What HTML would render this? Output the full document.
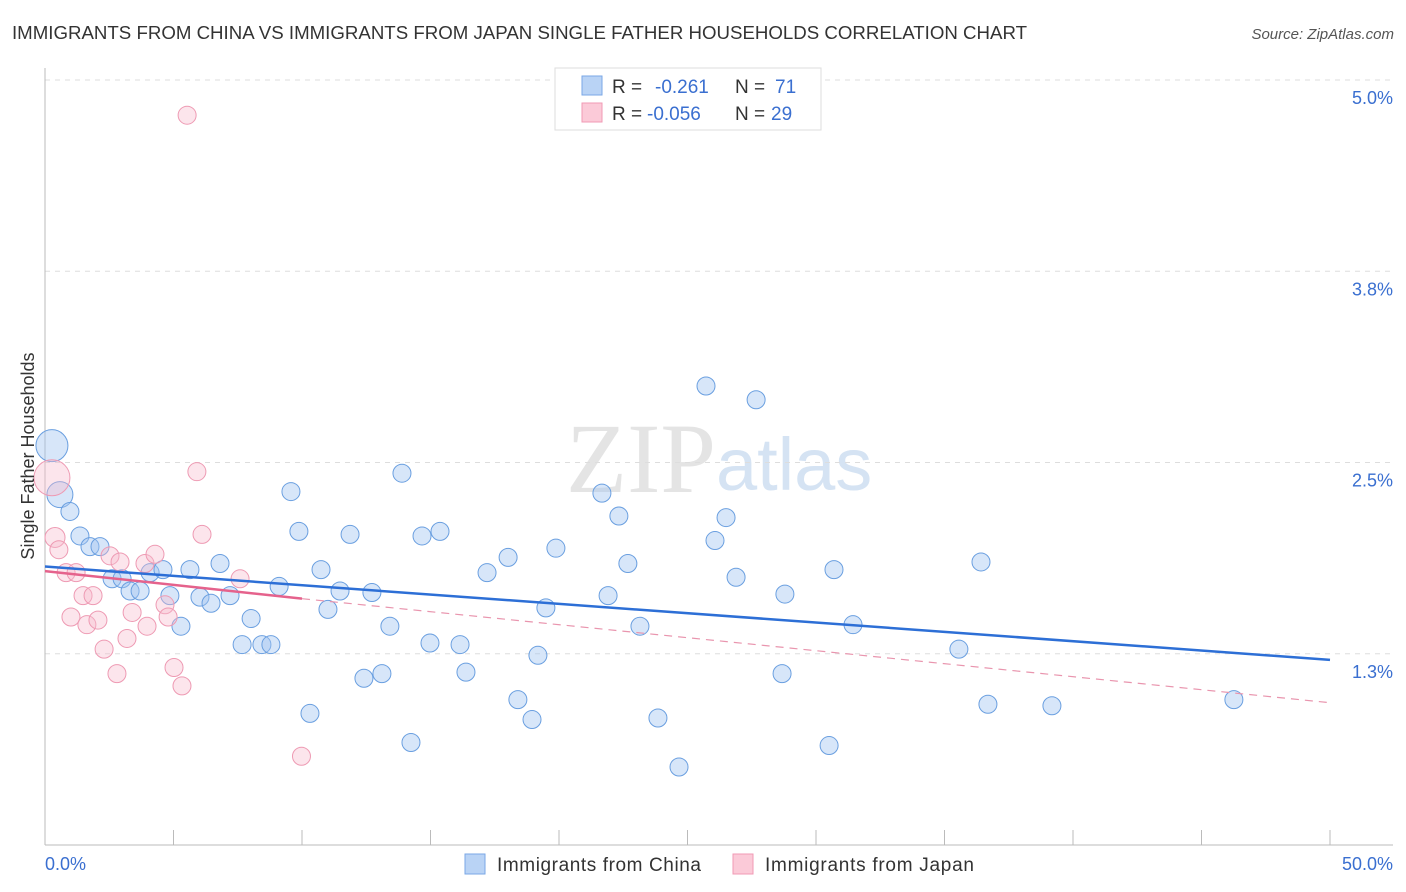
<!DOCTYPE html>
<html><head><meta charset="utf-8"><style>
body{margin:0;background:#fff;font-family:"Liberation Sans",sans-serif;}
svg{display:block}
</style></head><body>
<svg id="chart" width="1406" height="892" xmlns="http://www.w3.org/2000/svg">
<text x="12" y="39" font-size="18" fill="#333" textLength="1015" lengthAdjust="spacingAndGlyphs">IMMIGRANTS FROM CHINA VS IMMIGRANTS FROM JAPAN SINGLE FATHER HOUSEHOLDS CORRELATION CHART</text>
<text x="1394" y="39" font-size="15" fill="#555" font-style="italic" text-anchor="end">Source: ZipAtlas.com</text>
<text x="716" y="492" font-size="100" fill="#e4e4e4" text-anchor="end" font-family="Liberation Serif">ZIP</text>
<text x="716" y="490" font-size="74" fill="#d5e3f3">atlas</text>
<g id="grid"></g>
<g id="axes"></g>
<g id="pts"></g>
<g id="lines"></g>
<text transform="translate(34,456) rotate(-90)" font-size="18" fill="#333" text-anchor="middle">Single Father Households</text>
<text x="45" y="870" font-size="18" fill="#3a6fd0">0.0%</text>
<text x="1393" y="870" font-size="18" fill="#3a6fd0" text-anchor="end">50.0%</text>
<g>
<rect x="555" y="68" width="266" height="62" fill="#fff" stroke="#ddd"/>
<rect x="582" y="76" width="20" height="19" fill="#b9d3f5" stroke="#7aa7e6"/>
<rect x="582" y="103" width="20" height="19" fill="#fbcad8" stroke="#f09ab4"/>
<text x="612" y="93" font-size="19" fill="#333">R = </text><text x="655" y="93" font-size="19" fill="#3a6fd0">-0.261</text>
<text x="735" y="93" font-size="19" fill="#333">N = </text><text x="775" y="93" font-size="19" fill="#3a6fd0">71</text>
<text x="612" y="120" font-size="19" fill="#333">R = </text><text x="647" y="120" font-size="19" fill="#3a6fd0">-0.056</text>
<text x="735" y="120" font-size="19" fill="#333">N = </text><text x="771" y="120" font-size="19" fill="#3a6fd0">29</text>
</g>
<g>
<rect x="465" y="854" width="20" height="20" fill="#b9d3f5" stroke="#7aa7e6"/>
<text x="497" y="871" font-size="19" fill="#333" textLength="204">Immigrants from China</text>
<rect x="733" y="854" width="20" height="20" fill="#fbcad8" stroke="#f09ab4"/>
<text x="765" y="871" font-size="19" fill="#333" textLength="209">Immigrants from Japan</text>
</g>
</svg>
<script>
const yTicks=[5.0,3.75,2.5,1.25];
const yTickLabels=["5.0%","3.8%","2.5%","1.3%"];
const xTicks=[0,5,10,15,20,25,30,35,40,45,50];
const chinaX=[0.27,0.58,0.97,1.36,1.75,2.14,2.61,3.0,3.31,3.70,4.09,4.59,4.86,5.29,5.64,6.03,6.46,6.81,7.20,7.67,8.02,8.44,8.79,9.11,9.57,9.88,10.31,10.74,11.01,11.48,11.87,12.41,12.72,13.11,13.42,13.89,14.24,14.67,14.98,15.37,16.15,16.38,17.20,18.02,18.40,18.95,19.18,19.49,19.88,21.67,21.91,22.33,22.68,23.15,23.85,24.67,25.72,26.07,26.50,26.89,27.67,28.68,28.79,30.51,30.70,31.44,35.56,36.42,36.69,39.18,46.26];
const chinaY=[2.61,2.29,2.18,2.02,1.95,1.95,1.74,1.74,1.66,1.66,1.78,1.80,1.63,1.43,1.80,1.62,1.58,1.84,1.63,1.31,1.48,1.31,1.31,1.69,2.31,2.05,0.86,1.80,1.54,1.66,2.03,1.09,1.65,1.12,1.43,2.43,0.67,2.02,1.32,2.05,1.31,1.13,1.78,1.88,0.95,0.82,1.24,1.55,1.94,2.30,1.63,2.15,1.84,1.43,0.83,0.51,3.00,1.99,2.14,1.75,2.91,1.12,1.64,0.65,1.80,1.44,1.28,1.85,0.92,0.91,0.95];
const chinaR=[16,13,9,9,9,9,9,9,9,9,9,9,9,9,9,9,9,9,9,9,9,9,9,9,9,9,9,9,9,9,9,9,9,9,9,9,9,9,9,9,9,9,9,9,9,9,9,9,9,9,9,9,9,9,9,9,9,9,9,9,9,9,9,9,9,9,9,9,9,9,9];
const japanX=[0.27,0.39,0.54,0.82,1.01,1.21,1.48,1.63,1.87,2.06,2.30,2.53,2.80,2.92,3.19,3.39,3.89,3.97,4.28,4.67,4.79,5.02,5.33,5.53,5.91,6.11,7.59,9.98];
const japanY=[2.40,2.01,1.93,1.78,1.49,1.78,1.63,1.44,1.63,1.47,1.28,1.89,1.12,1.85,1.35,1.52,1.84,1.43,1.90,1.57,1.49,1.16,1.04,4.77,2.44,2.03,1.74,0.58];
const japanR=[18,10,9,9,9,9,9,9,9,9,9,9,9,9,9,9,9,9,9,9,9,9,9,9,9,9,9,9];
const chinaTrend=[[0,1.82],[50,1.21]];
const japanTrendSolid=[[0,1.79],[10,1.61]];
const japanTrendDash=[[10,1.61],[50,0.93]];
const NS="http://www.w3.org/2000/svg";
const X=v=>45+v*25.7, Y=v=>845-v*153;
function mk(tag,attrs,parent){const e=document.createElementNS(NS,tag);for(const k in attrs)e.setAttribute(k,attrs[k]);parent.appendChild(e);return e;}
const grid=document.getElementById('grid'),axes=document.getElementById('axes'),pts=document.getElementById('pts'),lines=document.getElementById('lines');
yTicks.forEach((t,i)=>{
 const l=mk('line',{x1:45,x2:1393,y1:Y(t),y2:Y(t),stroke:'#ddd','stroke-dasharray':'5,5'},grid);
 
 
 const tx=mk('text',{x:1393,y:Y(t)+24,'font-size':18,fill:'#3a6fd0','text-anchor':'end'},grid);
 tx.textContent=yTickLabels[i];
 
 
});
const ya=mk('line',{x1:45,x2:45,y1:68,y2:845,stroke:'#bbb'},axes);


const xa=mk('line',{x1:45,x2:1393,y1:845,y2:845,stroke:'#bbb'},axes);


xTicks.forEach(t=>{
 const l=mk('line',{x1:X(t),x2:X(t),y1:830,y2:845,stroke:'#bbb'},axes);
 
 
});
chinaX.forEach((v,i)=>{
 const c=mk('circle',{cx:X(v),cy:Y(chinaY[i]),r:chinaR[i],fill:'rgba(160,196,240,0.42)',stroke:'#6a9fe0','stroke-width':1},pts);
 
 
});
japanX.forEach((v,i)=>{
 const c=mk('circle',{cx:X(v),cy:Y(japanY[i]),r:japanR[i],fill:'rgba(248,186,204,0.38)',stroke:'#ee9ab3','stroke-width':1},pts);
 
 
});
const t1=mk('line',{x1:X(chinaTrend[0][0]),y1:Y(chinaTrend[0][1]),x2:X(chinaTrend[1][0]),y2:Y(chinaTrend[1][1]),stroke:'#2d6fd6','stroke-width':2.5},lines);


const t2=mk('line',{x1:X(japanTrendSolid[0][0]),y1:Y(japanTrendSolid[0][1]),x2:X(japanTrendSolid[1][0]),y2:Y(japanTrendSolid[1][1]),stroke:'#e5628c','stroke-width':2.5},lines);


const t3=mk('line',{x1:X(japanTrendDash[0][0]),y1:Y(japanTrendDash[0][1]),x2:X(japanTrendDash[1][0]),y2:Y(japanTrendDash[1][1]),stroke:'#e995ae','stroke-width':1.2,'stroke-dasharray':'8,6'},lines);


</script>
</body></html>
